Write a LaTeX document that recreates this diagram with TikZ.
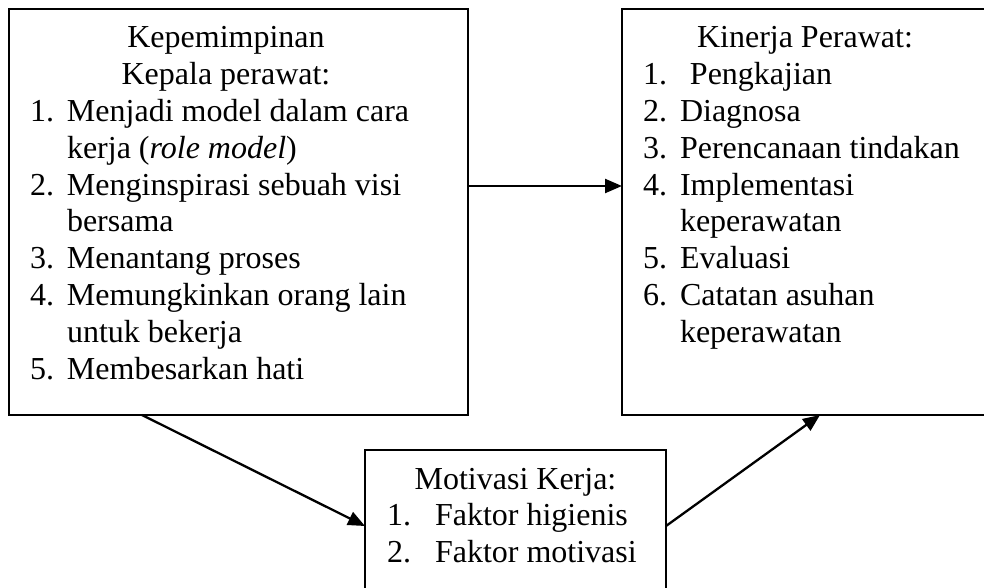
\documentclass[tikz,border=0pt]{standalone}
\usepackage{fontspec}
\setmainfont{Liberation Serif}
\usetikzlibrary{arrows.meta}
\newcommand{\myitem}[3][37pt]{\makebox[#1][l]{#2}#3}
\newcommand{\mycont}[1]{\hspace*{37pt}#1}
\tikzset{
  box/.style={draw, line width=2pt, inner sep=0pt, outer sep=0pt, anchor=north west},
  txt/.style={anchor=base west, inner sep=0pt, outer sep=0pt},
  arr/.style={line width=2.3pt, -{Triangle[length=17pt,width=14pt]}}
}
\begin{document}
\begin{tikzpicture}[x=1pt,y=-1pt]
\useasboundingbox (0,0) rectangle (984,588);
\clip (0,0) rectangle (984,588);
\fill[white] (0,0) rectangle (984,588);
% boxes
\node[box, minimum width=459pt, minimum height=406pt] (L) at (9,9) {};
\node[box, minimum width=396pt, minimum height=406pt] (R) at (622,9) {};
\node[box, minimum width=301pt, minimum height=152pt] (B) at (365,450) {};
% texts
\node[txt] (Ltext) at (30,48) {\parbox[t]{440pt}{\fontsize{32pt}{36.8pt}\selectfont
\makebox[392pt][c]{Kepemimpinan}\\
\makebox[392pt][c]{Kepala perawat:}\\
\myitem{1.}{Menjadi model dalam cara}\\
\mycont{kerja (\textit{role model})}\\
\myitem{2.}{Menginspirasi sebuah visi}\\
\mycont{bersama}\\
\myitem{3.}{Menantang proses}\\
\myitem{4.}{Memungkinkan orang lain}\\
\mycont{untuk bekerja}\\
\myitem{5.}{Membesarkan hati}}};
\node[txt] (Rtext) at (643,48) {\parbox[t]{340pt}{\fontsize{32pt}{36.8pt}\selectfont
\makebox[324pt][c]{Kinerja Perawat:}\\
\myitem[47pt]{1.}{Pengkajian}\\
\myitem{2.}{Diagnosa}\\
\myitem{3.}{Perencanaan tindakan}\\
\myitem{4.}{Implementasi}\\
\mycont{keperawatan}\\
\myitem{5.}{Evaluasi}\\
\myitem{6.}{Catatan asuhan}\\
\mycont{keperawatan}}};
\node[txt] (Btext) at (387,489) {\parbox[t]{270pt}{\fontsize{32pt}{36.8pt}\selectfont
\makebox[257pt][c]{Motivasi Kerja:}\\
\myitem[48pt]{1.}{Faktor higienis}\\
\myitem[48pt]{2.}{Faktor motivasi}}};
% connectors
\draw[arr] ([yshift=26pt]L.east) -- ([yshift=26pt]R.west);
\draw[arr] ([xshift=-96.5pt]L.south) -- (B.west);
\draw[arr] (B.east) -- ([xshift=198pt]R.south west);
\end{tikzpicture}
\end{document}
